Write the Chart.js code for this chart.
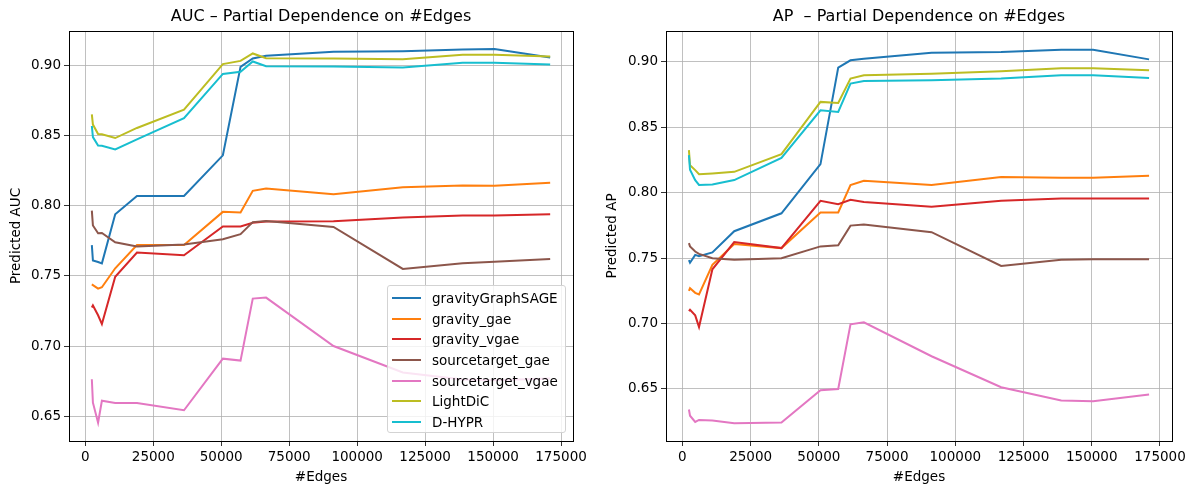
<!DOCTYPE html>
<html lang="en">
<head>
  <meta charset="UTF-8" />
  <title>Partial Dependence on #Edges</title>
  <style>
    body { margin: 0; background: #fff; font-family: "DejaVu Sans", sans-serif; }
    #wrap { position: relative; width: 1192px; height: 486px; overflow: hidden; }
    .box { position: absolute; top: 0; width: 596px; height: 486px; }
    .title { position: absolute; top: 6px; font-size: 16px; color: #000; white-space: pre; transform: translateX(-50%); }
    .legend { position: absolute; left: 387px; top: 285px; width: 179px; height: 148px; box-sizing: border-box;
      border: 1px solid #d3d3d3; border-radius: 3px; background: rgba(255,255,255,0.8); padding-top: 2px; }
    .legend div { height: 20.6px; display: flex; align-items: center; font-size: 13.5px; color: #000; }
    .legend span.sw { display: inline-block; width: 29px; height: 2px; margin-left: 4px; margin-right: 11px; }
  </style>
</head>
<body>
  <div id="wrap">
    <div class="box" style="left:0"><canvas id="aucChart"></canvas></div>
    <div class="box" style="left:596px"><canvas id="apChart"></canvas></div>
    <div class="title" style="left:321px">AUC – Partial Dependence on #Edges</div>
    <div class="title" style="left:919px">AP  – Partial Dependence on #Edges</div>
    <div class="legend" id="legend"></div>
  </div>

  <script src="https://cdn.jsdelivr.net/npm/chart.js@4.4.1/dist/chart.umd.min.js"></script>
  <script>
    const edges = [2400, 2800, 4700, 6100, 11000, 19000, 36300, 50600, 57100, 61600, 66500, 91300, 116800, 138800, 150500, 171000];
    const models = ['gravityGraphSAGE', 'gravity_gae', 'gravity_vgae', 'sourcetarget_gae', 'sourcetarget_vgae', 'LightDiC', 'D-HYPR'];
    const colors = ['#1f77b4', '#ff7f0e', '#d62728', '#8c564b', '#e377c2', '#bcbd22', '#17becf'];

    // AUC
    const aucGraphSAGE = [0.772, 0.761, 0.760, 0.759, 0.794, 0.807, 0.807, 0.836, 0.899, 0.905, 0.907, 0.9098, 0.9102, 0.9114, 0.9117, 0.9057];
    const aucGae = [0.744, 0.7435, 0.741, 0.742, 0.7555, 0.772, 0.772, 0.7957, 0.7952, 0.8107, 0.8124, 0.8083, 0.8133, 0.8145, 0.8143, 0.8164];
    const aucVgae = [0.7275, 0.729, 0.722, 0.7157, 0.7494, 0.7667, 0.7648, 0.7853, 0.7853, 0.7879, 0.7888, 0.7891, 0.7917, 0.7931, 0.7931, 0.794];
    const aucStGae = [0.7966, 0.786, 0.7805, 0.7807, 0.774, 0.771, 0.7724, 0.7762, 0.7798, 0.7884, 0.7891, 0.785, 0.755, 0.759, 0.7602, 0.7621];
    const aucStVgae = [0.6764, 0.6597, 0.6454, 0.6611, 0.6595, 0.6595, 0.6543, 0.6911, 0.6897, 0.7339, 0.7346, 0.7001, 0.6812, 0.6762, 0.6757, 0.677];
    const aucLightDiC = [0.8652, 0.8579, 0.8512, 0.851, 0.8483, 0.8555, 0.8686, 0.901, 0.9033, 0.9086, 0.9052, 0.905, 0.9045, 0.9076, 0.9076, 0.9064];
    const aucDHYPR = [0.8569, 0.849, 0.843, 0.8428, 0.8402, 0.8473, 0.8624, 0.894, 0.8955, 0.9029, 0.8995, 0.8993, 0.8986, 0.9019, 0.9019, 0.9007];

    // AP
    const apGraphSAGE = [0.7485, 0.7465, 0.7525, 0.7515, 0.7544, 0.7706, 0.7843, 0.8219, 0.8957, 0.9013, 0.9025, 0.9071, 0.9076, 0.9094, 0.9094, 0.902];
    const apGae = [0.725, 0.727, 0.7235, 0.7222, 0.7449, 0.7608, 0.7577, 0.785, 0.785, 0.8059, 0.8092, 0.8059, 0.812, 0.8115, 0.8115, 0.813];
    const apVgae = [0.7095, 0.7105, 0.7063, 0.6973, 0.7415, 0.7623, 0.7577, 0.7939, 0.7913, 0.7947, 0.7929, 0.7893, 0.7939, 0.7957, 0.7957, 0.7957];
    const apStGae = [0.7615, 0.759, 0.7551, 0.7533, 0.75, 0.7487, 0.75, 0.759, 0.7598, 0.7749, 0.7757, 0.7699, 0.7441, 0.7487, 0.7492, 0.7492];
    const apStVgae = [0.6343, 0.6295, 0.6248, 0.6263, 0.6258, 0.6238, 0.6243, 0.649, 0.65, 0.6994, 0.7009, 0.675, 0.6513, 0.6411, 0.6406, 0.6457];
    const apLightDiC = [0.8326, 0.8211, 0.8173, 0.8142, 0.8148, 0.816, 0.8295, 0.8695, 0.8687, 0.8873, 0.8898, 0.8911, 0.8929, 0.8952, 0.8952, 0.8936];
    const apDHYPR = [0.8288, 0.8176, 0.8097, 0.806, 0.8064, 0.8097, 0.8267, 0.8631, 0.8618, 0.8835, 0.8855, 0.886, 0.8873, 0.8898, 0.8898, 0.8878];

    const xTicks = [0, 25000, 50000, 75000, 100000, 125000, 150000, 175000];
    const yTicks = [0.65, 0.70, 0.75, 0.80, 0.85, 0.90];

    // box around plot area like matplotlib spines
    const frame = {
      id: 'frame',
      afterDraw(chart) {
        const a = chart.chartArea, ctx = chart.ctx;
        ctx.save();
        ctx.strokeStyle = '#000';
        ctx.lineWidth = 1;
        ctx.strokeRect(Math.round(a.left) + 0.5, Math.round(a.top) + 0.5, Math.round(a.right - a.left), Math.round(a.bottom - a.top));
        ctx.restore();
      }
    };

    function makeChart(id, series, yLabel, yMin, yMax, axisW, padRight) {
      const datasets = series.map((s, i) => ({
        label: models[i],
        data: edges.map((x, j) => ({ x: x, y: s[j] })),
        borderColor: colors[i],
        backgroundColor: colors[i],
        borderWidth: 2,
        pointRadius: 0,
        tension: 0,
        fill: false,
        order: series.length - i
      }));
      const font = { family: 'DejaVu Sans', size: 13.5 };
      return new Chart(document.getElementById(id), {
        type: 'line',
        data: { datasets: datasets },
        options: {
          responsive: true,
          maintainAspectRatio: false,
          animation: false,
          layout: { padding: { top: 31, right: padRight, left: 0, bottom: 0 } },
          plugins: { legend: { display: false }, tooltip: { enabled: false } },
          scales: {
            x: {
              type: 'linear',
              min: -6000, max: 179400,
              afterBuildTicks: s => { s.ticks = xTicks.map(v => ({ value: v })); },
              afterFit: s => { s.height = 45; },
              ticks: { callback: v => String(v), color: '#000', font: font, autoSkip: false, maxRotation: 0, padding: 3 },
              grid: { color: '#b0b0b0', lineWidth: 0.8, tickColor: '#000', tickLength: 5 },
              border: { display: false },
              title: { display: true, text: '#Edges', color: '#000', font: font, padding: { top: 0, bottom: 0 } }
            },
            y: {
              min: yMin, max: yMax,
              afterBuildTicks: s => { s.ticks = yTicks.map(v => ({ value: v })); },
              afterFit: s => { s.width = axisW; },
              ticks: { callback: v => v.toFixed(2), color: '#000', font: font, padding: 3 },
              grid: { color: '#b0b0b0', lineWidth: 0.8, tickColor: '#000', tickLength: 5 },
              border: { display: false },
              title: { display: true, text: yLabel, color: '#000', font: font, padding: { top: 8, bottom: 4 } }
            }
          }
        },
        plugins: [frame]
      });
    }

    makeChart('aucChart', [aucGraphSAGE, aucGae, aucVgae, aucStGae, aucStVgae, aucLightDiC, aucDHYPR],
      'Predicted AUC', 0.6324, 0.9246, 69, 23);
    makeChart('apChart', [apGraphSAGE, apGae, apVgae, apStGae, apStVgae, apLightDiC, apDHYPR],
      'Predicted AP', 0.6102, 0.9237, 70, 20);

    const legend = document.getElementById('legend');
    models.forEach((m, i) => {
      const row = document.createElement('div');
      row.innerHTML = `<span class="sw" style="background:${colors[i]}"></span>${m}`;
      legend.appendChild(row);
    });
  </script>
</body>
</html>
